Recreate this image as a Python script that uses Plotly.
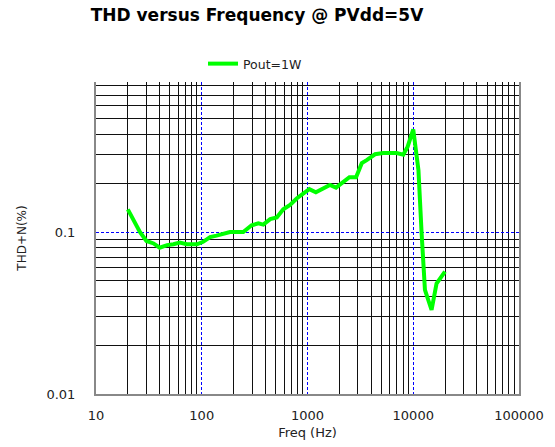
import plotly.graph_objects as go

freq = [20, 22.5, 26, 30, 35, 40, 47, 54, 62, 72, 90, 103, 120, 138, 185, 247, 296, 343, 382, 444,
        512, 590, 684, 790, 912, 1040, 1200, 1410, 1630, 1860, 2150, 2490, 2880, 3260, 3630,
        4350, 5210, 6970, 8050, 8850, 10000, 11200, 12000, 12900, 14900, 16600, 19950]
thd = [0.138, 0.119, 0.100, 0.088, 0.085, 0.080, 0.083, 0.084, 0.086, 0.084, 0.084, 0.087, 0.093,
       0.095, 0.100, 0.100, 0.110, 0.113, 0.111, 0.120, 0.123, 0.138, 0.147, 0.161, 0.172, 0.184,
       0.176, 0.186, 0.195, 0.188, 0.201, 0.218, 0.218, 0.266, 0.278, 0.302, 0.307, 0.307, 0.300,
       0.336, 0.43, 0.241, 0.098, 0.044, 0.033, 0.048, 0.057]

x_ticks = [10, 100, 1000, 10000, 100000]
x_ticktext = ["10", "100", "1000", "10000", "100000"]
y_ticks = [0.01, 0.1]
y_ticktext = ["0.01", "0.1"]

x_minor = [m * d for d in [10, 100, 1000, 10000] for m in range(2, 10)]
y_minor = [m * d for d in [0.01, 0.1] for m in range(2, 10)]

FONT = "DejaVu Sans, Arial, sans-serif"

fig = go.Figure()
fig.add_trace(go.Scatter(
    x=freq, y=thd, mode="lines", name="Pout=1W",
    line=dict(color="#00ff00", width=4),
))

fig.update_layout(
    width=555, height=447,
    margin=dict(l=96, r=36, t=82, b=53, autoexpand=False),
    paper_bgcolor="white", plot_bgcolor="white",
    font=dict(family=FONT, size=12, color="#222"),
    title=dict(text="<b>THD versus Frequency @ PVdd=5V</b>", x=257/555, xref="container",
               xanchor="center", y=1-15/447, yanchor="middle",
               font=dict(family=FONT, size=17, color="#000")),
    showlegend=True,
    legend=dict(orientation="h", x=(203-96)/423, xanchor="left", y=1+18/312, yanchor="middle",
                font=dict(family=FONT, size=12.5, color="#222"), bgcolor="rgba(0,0,0,0)"),
    xaxis=dict(
        type="log", range=[1, 5], automargin=False,
        tickmode="array", tickvals=x_ticks, ticktext=x_ticktext,
        showgrid=True, gridcolor="#0000ff", gridwidth=1, griddash="3px,2px",
        minor=dict(tickmode="array", tickvals=x_minor, showgrid=True, gridcolor="#111",
                   gridwidth=1, griddash="solid"),
        showline=True, linecolor="#888", linewidth=2, mirror=False,
        ticks="", ticklabelstandoff=8,
        tickfont=dict(family=FONT, size=13, color="#222"),
        title=dict(text="Freq (Hz)", standoff=6, font=dict(family=FONT, size=13, color="#222")),
        zeroline=False,
    ),
    yaxis=dict(
        type="log", range=[-2, -0.074], automargin=False,
        tickmode="array", tickvals=y_ticks, ticktext=y_ticktext,
        showgrid=True, gridcolor="#0000ff", gridwidth=1, griddash="3px,2px",
        minor=dict(tickmode="array", tickvals=y_minor, showgrid=True, gridcolor="#111",
                   gridwidth=1, griddash="solid"),
        showline=True, linecolor="#888", linewidth=2, mirror=True,
        ticks="", ticklabelstandoff=16,
        tickfont=dict(family=FONT, size=13, color="#222"),
        title=dict(text="THD+N(%)", standoff=17, font=dict(family=FONT, size=12, color="#222")),
        zeroline=False,
    ),
)

fig.write_html("out.html", config={"displayModeBar": False},
               post_script="document.body.style.margin='0';")
